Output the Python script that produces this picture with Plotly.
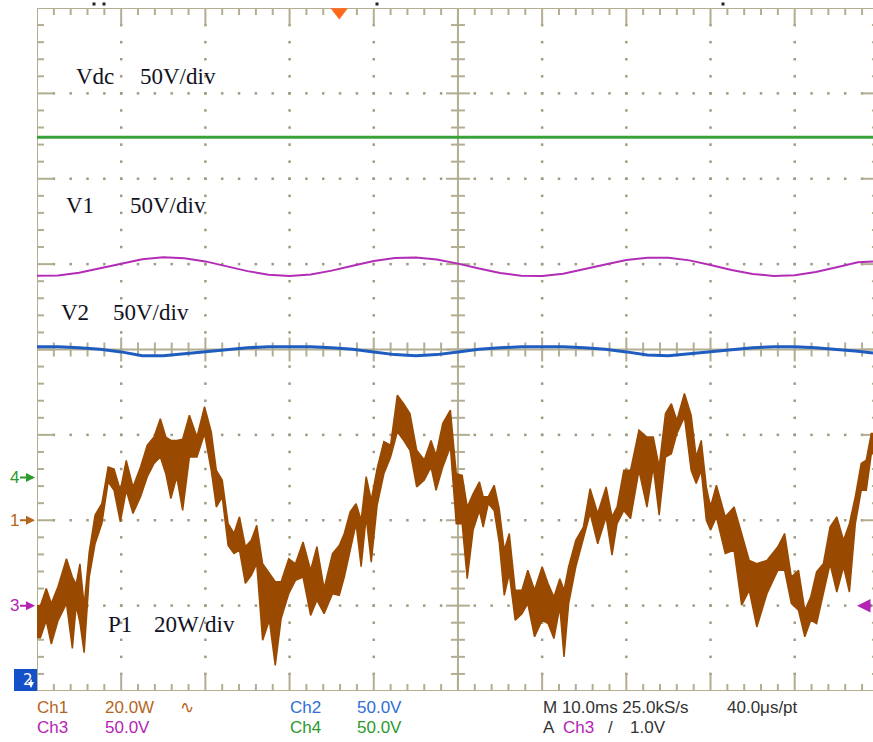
import numpy as np
import plotly.graph_objects as go

# ---------------- scope data ----------------
t_end = 99.3  # ms visible, 10 ms/div (right edge cut off)

# Ch4 Vdc, 50 V/div, ground marker at -1.5 div
vdc_t = [0, 99.3]
vdc = [199.3, 199.3]

# Ch3 V1 and Ch2 V2, 50 V/div
v_t = [0, 2.5, 5, 7.5, 10, 12.5, 15, 17.5, 20, 22.5, 25, 27.5, 30, 32.5, 35, 37.5,
       40, 42.5, 45, 47.5, 50, 52.5, 55, 57.5, 60, 62.5, 65, 67.5, 70, 72.5, 75, 77.5,
       80, 82.5, 85, 87.5, 90, 92.5, 95, 97.5, 99.3]
v1 = [193.2, 193.3, 195.0, 197.6, 200.5, 202.9, 204.0, 203.5, 201.6, 198.8, 195.9,
      193.8, 193.0, 193.9, 196.2, 199.1, 201.8, 203.6, 203.9, 202.7, 200.3, 197.4,
      194.8, 193.2, 193.0, 194.4, 196.9, 199.8, 202.4, 203.8, 203.8, 202.2, 199.5,
      196.6, 194.2, 193.1, 193.5, 195.4, 198.2, 201.1, 201.5]
v2 = [201.6, 201.6, 201.0, 200.1, 198.6, 196.3, 196.3, 197.5, 198.6, 200.1, 201.0,
      201.6, 201.6, 201.6, 201.0, 200.1, 198.6, 197.0, 196.3, 197.0, 198.6, 200.1,
      201.0, 201.6, 201.6, 201.6, 201.0, 200.1, 198.6, 196.8, 196.3, 197.5, 198.6,
      200.1, 201.0, 201.6, 201.6, 201.0, 200.1, 199.0, 198.0]

# Ch1 P1, 20 W/div, ground marker at -2 div; min/max envelope per time slice
p_t = [0.0, 0.8, 1.4, 2.0, 3.0, 4.0, 4.4, 4.9, 5.3, 5.9, 6.5, 7.3, 8.1, 8.8, 9.5,
       10.3, 10.9, 11.9, 12.7, 13.5, 14.3, 15.0, 15.6, 16.2, 17.0, 17.6, 18.6, 19.4,
       20.4, 21.0, 21.6, 22.4, 23.0, 23.8, 24.3, 25.2, 25.7, 26.5, 27.1, 28.1, 28.5,
       29.5, 30.3, 31.1, 32.1, 32.9, 33.6, 34.6, 35.6, 36.2, 36.8, 37.6, 38.2, 38.8,
       39.4, 40.0, 40.8, 41.6, 42.4, 43.2, 43.9, 44.7, 45.5, 46.5, 47.1, 47.7, 48.7,
       49.5, 50.1, 50.9, 51.3, 52.3, 52.8, 53.2, 54.0, 54.6, 55.2, 55.8, 56.4, 57.2,
       58.0, 58.6, 59.6, 60.4, 61.0, 61.8, 62.4, 62.8, 63.5, 64.5, 65.3, 66.1, 67.1,
       68.1, 68.5, 69.3, 70.1, 70.9, 72.1, 72.8, 73.6, 74.2, 75.1, 75.6, 76.4, 77.4,
       78.0, 78.6, 79.2, 79.8, 80.2, 81.2, 82.3, 83.3, 84.1, 85.1, 85.9, 87.5, 88.5,
       89.1, 90.1, 90.8, 91.6, 92.2, 93.0, 93.8, 94.6, 95.4, 96.2, 96.8, 97.6, 98.2,
       98.8, 99.4]
p_hi = [-20, -16, -19.5, -15.5, -9, -13.3, -15, -10.2, -20, -7.5, 1.2, 3.9, 12.5, 12, 7,
        14, 7.8, 12.5, 17.6, 19.5, 23.8, 19.5, 18.7, 18.7, 19, 24.6, 19.5, 26.6,
        20.7, 11.7, 9.4, -0.8, -3.1, 0.8, -6.2, -4.7, -1.2, -10.2, -12.5, -14.4, -14.4,
        -9, -10.2, -5.1, -11.7, -6.2, -16, -7.8, -5.9, -3.1, 2, 3.9, 0, 10.2,
        4.7, 12.1, 18.4, 17.6, 29.3, 27.3, 25, 16.4, 14.1, 18.7, 15.2, 22.7, 25.8,
        10.9, 10.5, 3.1, 6.2, 9, 5.5, 5.5, 8.2, 2.7, -7, -3.1, -16.4, -16.4,
        -11.7, -16.4, -10.9, -14.8, -18, -13.7, -16.4, -10.9, -4.7, -1.6, 7.4, 1.6, 7.8,
        0.8, 3.1, 11.7, 11.7, 21.1, 19.5, 19.5, 12.5, 25, 27.3, 23.4, 29.7, 24.6,
        14.8, 18.7, 7.8, 3.1, 8.2, 0.8, 3.1, -3.1, -9.4, -10.2, -9.4, -6.2, -3.1,
        -13.3, -11.7, -21.1, -18, -12.1, -10.2, -1.6, 0.8, -4.7, -0.8, 5.5, 13.3, 14.1,
        20.3]
p_lo = [-27.5, -23.5, -29, -23.5, -19.5, -30, -20, -24, -31, -13.3, -5.5, -0.8, 9, 7, -0.4,
        7, 1.6, 5.5, 10.2, 13.3, 14.8, 10.9, 5.1, 10.2, 2.3, 14.8, 14.8, 20.3,
        11.7, 3.1, 5.5, -5.9, -7.8, -7, -14.8, -12.9, -10.2, -28.1, -23.4, -34, -23,
        -17.2, -14.1, -13.3, -22.3, -18.7, -21.9, -17.2, -17.6, -13.3, -7, -0.8, -10.9, 0.8,
        -9.8, 3.5, 10.9, 14.8, 20.7, 18.7, 16.4, 7.8, 9.4, 12.5, 7, 12.5, 17.2,
        -0.8, -0.8, -13.7, -2.3, 2.3, -1.6, 3.9, 2.3, -5.1, -17.6, -12.5, -23.4, -21.9,
        -19.5, -27.3, -23.4, -24.2, -27.7, -20.3, -32, -19.5, -10.9, -3.9, 1.6, -5.5, 0.8,
        -8.2, -0.8, 2.3, 0.4, 11.7, 3.1, 12.5, 1.2, 14.8, 15.6, 20.3, 24.2, 11.7,
        8.6, 11.7, 0, -2.3, 0.8, -7.8, -7, -19.9, -16.4, -25, -17.2, -11.7, -11.7,
        -19.5, -21.1, -27.3, -23.4, -24.2, -17.2, -10.2, -16.8, -10.9, -16.8, -0.8, 7, 7,
        15.6]

# channel settings: (volts per div, ground offset in div)
CH1 = (20, -2.0)
CH2 = (50, -4.0)
CH3 = (50, -3.0)
CH4 = (50, -1.5)
trig_pos = 35.9   # ms, horizontal trigger position marker


def to_div(vals, ch):
    return [v / ch[0] + ch[1] for v in vals]


# ---------------- graticule ----------------
GRID = "#b3ad92"
PXX = 836 / t_end   # px per ms
PXY = 683 / 8       # px per div
mx = np.round(np.arange(0, 100.01, 2), 2)
my = np.round(np.arange(-4, 4.001, 0.2), 2)


def seg_xy(segs):
    xs, ys = [], []
    for x0, y0, x1, y1 in segs:
        xs += [x0, x1, None]
        ys += [y0, y1, None]
    return xs, ys


segs = [(0, -4, 0, 4), (0, 4, 100, 4), (0, -4, 100, -4), (100, -4, 100, 4),
        (50, -4, 50, 4), (0, 0, 100, 0)]
for x in mx:
    major = abs(x / 10 - round(x / 10)) < 1e-6
    L = (17 if major else 7) / PXY
    segs.append((x, 4, x, 4 - L))
    segs.append((x, -4, x, -4 + L))
    c = (12 if major else 7) / PXY
    segs.append((x, -c, x, c))
for y in my:
    major = abs(y - round(y)) < 1e-6
    L = (17 if major else 7) / PXX
    segs.append((0, y, L, y))
    segs.append((100, y, 100 - L, y))
    c = (12 if major else 7) / PXX
    segs.append((50 - c, y, 50 + c, y))
gx, gy = seg_xy(segs)

dx, dy = [], []
for x in range(10, 100, 10):
    if x == 50:
        continue
    for y in my[1:-1]:
        dx.append(x)
        dy.append(y)
for y in range(-3, 4):
    if y == 0:
        continue
    for x in mx[1:-1]:
        dx.append(x)
        dy.append(y)

fig = go.Figure()
fig.add_trace(go.Scatter(x=dx, y=dy, mode="markers",
                         marker=dict(symbol="square", size=2.5, color="#a09a80"),
                         hoverinfo="skip"))
fig.add_trace(go.Scatter(x=gx, y=gy, mode="lines", line=dict(color=GRID, width=2),
                         cliponaxis=False, hoverinfo="skip"))

# ---------------- traces ----------------
GREEN = "#3aa23a"
PURPLE = "#b22db6"
BLUE = "#1f5cc0"
BROWN = "#9a4a00"

fig.add_trace(go.Scatter(x=vdc_t, y=to_div(vdc, CH4), mode="lines",
                         line=dict(color=GREEN, width=3)))
fig.add_trace(go.Scatter(x=v_t, y=to_div(v1, CH3), mode="lines",
                         line=dict(color=PURPLE, width=2)))
fig.add_trace(go.Scatter(x=v_t, y=to_div(v2, CH2), mode="lines",
                         line=dict(color=BLUE, width=3)))

# P1 envelope: band through the middle of each time slice
p_mid = [(a + b) / 2 for a, b in zip(p_t[:-1], p_t[1:])]
p_x = [p_t[0]] + p_mid + [p_t[-1]]
hi = to_div(p_hi, CH1)
lo = to_div(p_lo, CH1)
fig.add_trace(go.Scatter(x=p_x, y=[hi[0]] + hi + [hi[-1]], mode="lines",
                         line=dict(color=BROWN, width=1.5)))
fig.add_trace(go.Scatter(x=p_x, y=[lo[0]] + lo + [lo[-1]], mode="lines",
                         line=dict(color=BROWN, width=1.5), fill="tonexty",
                         fillcolor=BROWN))

# top trigger position marker
fig.add_trace(go.Scatter(x=[trig_pos], y=[4 - 4 / PXY], mode="markers", cliponaxis=False,
                         marker=dict(symbol="triangle-down", size=15, color="#ff6a1a")))

# ---------------- annotations ----------------
ann = []
SERIF = "Liberation Serif"
LBL = "#12121e"
for txt, x, y in [("Vdc", 4.45, 3.2), ("50V/div", 11.95, 3.2),
                  ("V1", 3.26, 1.69), ("50V/div", 10.86, 1.69),
                  ("V2", 2.67, 0.43), ("50V/div", 8.73, 0.43),
                  ("P1", 8.25, -3.22), ("20W/div", 13.7, -3.22)]:
    ann.append(dict(x=x, y=y, xref="x", yref="y", text=txt, showarrow=False,
                    xanchor="left", yanchor="middle",
                    font=dict(family=SERIF, size=23, color=LBL)))


def px(xp):
    return (xp - 37) / 836


def py(yp):
    return (691 - yp) / 683


SANS = "Liberation Sans"
C1, C2, C3, C4, DK = "#b4661e", "#2f6fd6", "#b424b4", "#2c9a2c", "#333333"
for txt, x, y, col in [("Ch1", 35, 707, C1), ("20.0W", 103, 707, C1), ("∿", 178, 707, C1),
                       ("Ch2", 288, 707, C2), ("50.0V", 355, 707, C2),
                       ("M 10.0ms 25.0kS/s", 541, 707, DK), ("40.0μs/pt", 725, 707, DK),
                       ("Ch3", 35, 727, C3), ("50.0V", 103, 727, C3),
                       ("Ch4", 288, 727, C4), ("50.0V", 355, 727, C4),
                       ("A", 541, 727, DK), ("Ch3", 561, 727, C3), ("/", 606, 727, DK),
                       ("1.0V", 628, 727, DK)]:
    ann.append(dict(x=px(x), y=py(y), xref="paper", yref="paper", text=txt,
                    showarrow=False, xanchor="left", yanchor="middle",
                    font=dict(family=SANS, size=17, color=col)))

# channel ground markers on the left
for lab, ch, col in [("4", CH4, C4), ("1", CH1, C1), ("3", CH3, C3)]:
    ann.append(dict(x=px(35), y=ch[1], xref="paper", yref="y", text=lab,
                    showarrow=True, ax=-21, ay=0, arrowhead=2, arrowsize=0.9,
                    arrowwidth=2, arrowcolor=col,
                    font=dict(family=SANS, size=17, color=col)))
# Ch2 ground is below the screen: blue tag "2" with a down arrow
ann.append(dict(x=px(21), y=-4 + 11 / PXY, xref="paper", yref="y", text="2",
                showarrow=False, font=dict(family="DejaVu Sans", size=15, color="white")))
ann.append(dict(x=px(31), y=-4 + 3 / PXY, xref="paper", yref="y", text="",
                showarrow=True, ax=0, ay=-10, arrowhead=2, arrowsize=0.8,
                arrowwidth=1.5, arrowcolor="white"))
# trigger level arrow on the right
ann.append(dict(x=(857 - 37) / PXX, y=CH3[1], xref="x", yref="y", text="",
                showarrow=True, ax=20, ay=0, arrowhead=2, arrowsize=0.9,
                arrowwidth=3, arrowcolor=C3))

# small status dots above the frame
dots = [dict(type="rect", xref="paper", yref="paper", x0=px(x - 1.5), x1=px(x + 1.5),
             y0=py(5.5), y1=py(2.5), fillcolor="#222222", line_width=0)
        for x in (94, 104, 377, 723)]

fig.update_layout(
    width=873, height=742,
    margin=dict(l=37, r=0, t=8, b=51),
    paper_bgcolor="white", plot_bgcolor="white",
    showlegend=False,
    xaxis=dict(range=[0, t_end], visible=False),
    yaxis=dict(range=[-4, 4], visible=False),
    annotations=ann,
    shapes=[dict(type="rect", xref="paper", yref="y", x0=px(14), x1=px(37),
                 y0=-4, y1=-4 + 22 / PXY, fillcolor="#1450c8", line_width=0,
                 layer="below")] + dots,
)

# drop the default page margin so the figure fills the window exactly
fig.write_html("out.html", config={"displayModeBar": False},
               post_script="document.body.style.margin='0';"
                           "document.documentElement.style.overflow='hidden';")
